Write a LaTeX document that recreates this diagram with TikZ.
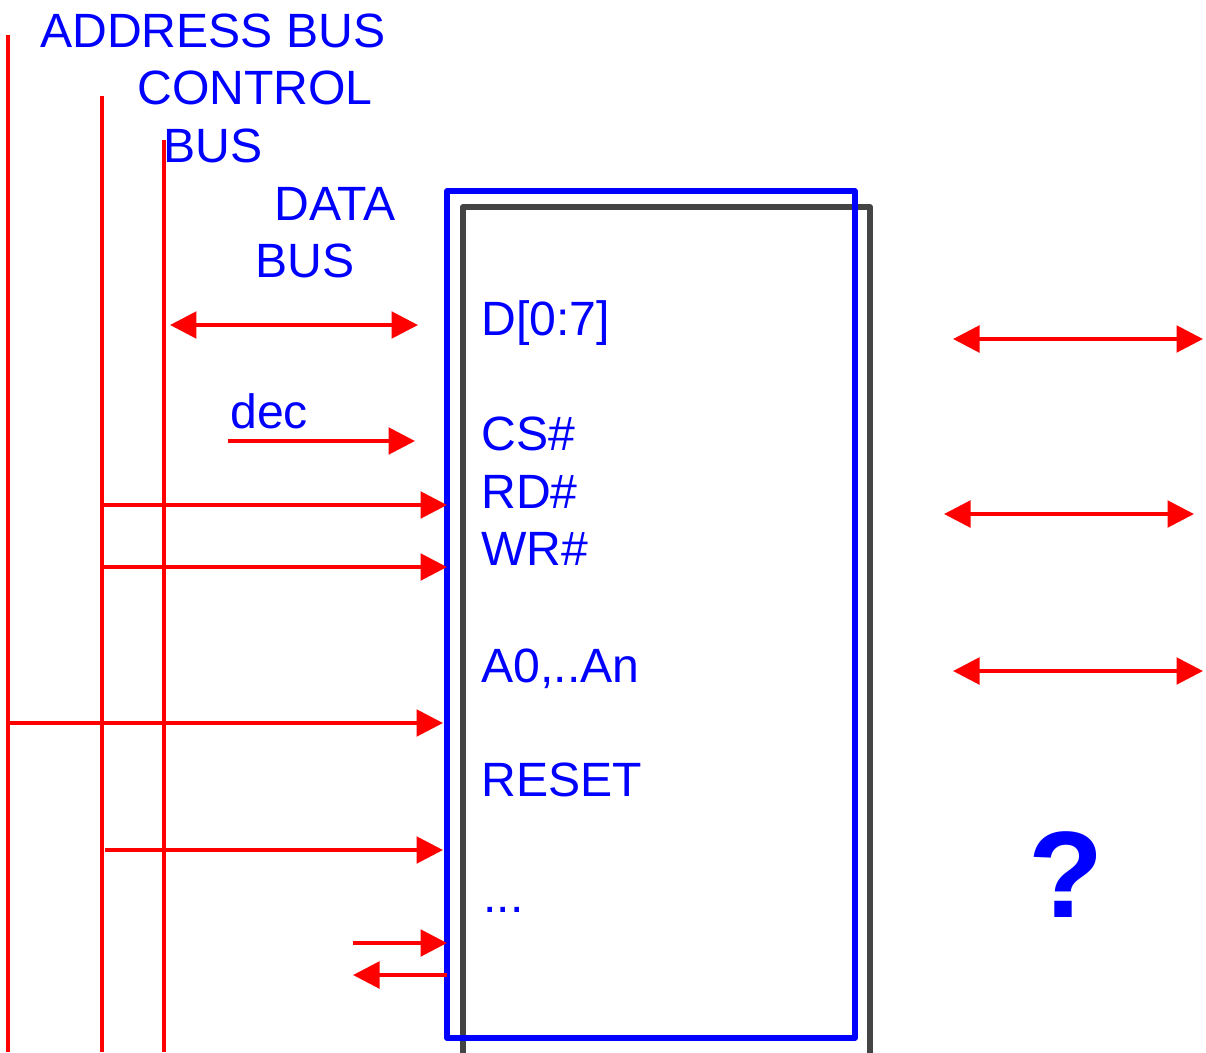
\documentclass[tikz,border=0pt]{standalone}
\usepackage{fontspec}
\setmainfont{Liberation Sans}
\usetikzlibrary{arrows.meta}

\definecolor{sigred}{RGB}{255,0,0}
\definecolor{lblblue}{RGB}{0,0,255}
\definecolor{boxgray}{RGB}{68,68,68}

\tikzset{
  tip/.tip={Triangle[length=0.53cm,width=0.53cm]},
  bus/.style={draw=sigred, line width=2.2pt},
  sig/.style={bus, -tip},
  bisig/.style={bus, tip-tip},
  lbl/.style={text=lblblue, inner sep=0pt, anchor=base west, font=\fontsize{27.4}{32}\selectfont},
}

\begin{document}
\begin{tikzpicture}[x=0.02cm, y=-0.02cm]
\useasboundingbox (0,0) rectangle (1206,1052);

% buses
\coordinate (addr) at (8,35);
\coordinate (ctrl) at (102,96);
\coordinate (data) at (164,140);
\draw[bus] (addr) -- (addr |- 0,1052);
\draw[bus] (ctrl) -- (ctrl |- 0,1052);
\draw[bus] (data) -- (data |- 0,1052);

\node[lbl] (addrlbl) at (40,47) {ADDRESS BUS};
\node[lbl] (ctrllbl) at (137,104) {CONTROL};
\node[lbl] (ctrlbus) at (163,162) {BUS};
\node[lbl] (datalbl) at (274,220) {DATA};
\node[lbl] (databus) at (255,277) {BUS};

% chip
\draw[boxgray, line width=3.4pt, line join=round] (463,207) rectangle (870,1062);
\node[draw=lblblue, line width=3.4pt, line join=round, minimum width=8.16cm,
      minimum height=16.94cm, inner sep=0pt] (chip) at (651,614.5) {};

\node[lbl] (pD)   at (481,335) {D[0:7]};
\node[lbl] (pCS)  at (481,450) {CS\#};
\node[lbl] (pRD)  at (481,508) {RD\#};
\node[lbl] (pWR)  at (481,565) {WR\#};
\node[lbl] (pA)   at (481,682) {A0,..An};
\node[lbl] (pRST) at (481,796) {RESET};
\node[lbl] (petc) at (483,912) {...};

% signals into the chip
\coordinate (inD)   at (418,325);
\coordinate (decst) at (228,441);
\coordinate (inCS)  at (415,441);
\coordinate (inRD)  at (447,505);
\coordinate (inWR)  at (447,567);
\coordinate (inA)   at (443,723);
\coordinate (inRST) at (443,850);
\coordinate (xst)   at (353,943);
\coordinate (inX)   at (447,943);
\coordinate (outY)  at (447,975);
\coordinate (yend)  at (353,975);

\draw[bisig] (data |- inD) ++(6,0) -- (inD);
\node[lbl] (declbl) at (230,428) {dec};
\draw[sig] (decst) -- (inCS);
\draw[sig] (ctrl |- inRD) -- (inRD);
\draw[sig] (ctrl |- inWR) -- (inWR);
\draw[sig] (addr |- inA) ++(2,0) -- (inA);
\draw[sig] (ctrl |- inRST) ++(3,0) -- (inRST);
\draw[sig] (xst) -- (inX);
\draw[sig] (outY) -- (yend);

% other side
\coordinate (r1a) at (953,339);
\coordinate (r1b) at (1203,339);
\coordinate (r2a) at (944,514);
\coordinate (r2b) at (1194,514);
\coordinate (r3a) at (953,671);
\coordinate (r3b) at (1203,671);
\draw[bisig] (r1a) -- (r1b);
\draw[bisig] (r2a) -- (r2b);
\draw[bisig] (r3a) -- (r3b);

\node[text=lblblue, inner sep=0pt, font=\fontsize{70}{80}\selectfont\bfseries] (qmark) at (1066,875) {?};
\end{tikzpicture}
\end{document}
